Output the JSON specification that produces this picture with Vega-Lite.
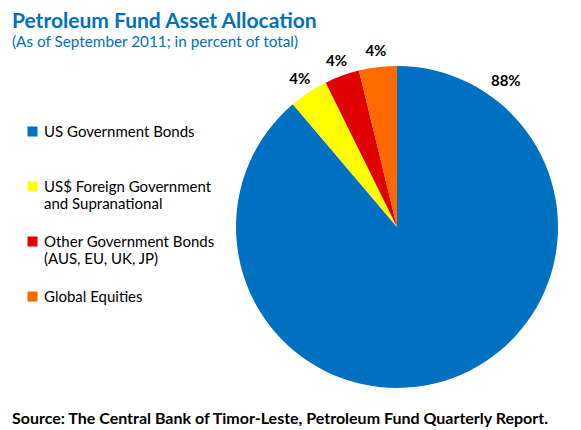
{
  "$schema": "https://vega.github.io/schema/vega-lite/v6.json",
  "background": "white",
  "autosize": {"type": "pad"},
  "padding": {"left": 12, "top": 10, "right": 5, "bottom": 5},
  "title": {
    "text": "Petroleum Fund Asset Allocation",
    "subtitle": "(As of September 2011; in percent of total)",
    "anchor": "start",
    "frame": "bounds",
    "dx": 0,
    "font": "Lato",
    "fontSize": 21,
    "fontWeight": "bold",
    "color": "#0070C0",
    "subtitleFont": "Lato",
    "subtitleFontSize": 15.3,
    "subtitleColor": "#0070C0",
    "subtitlePadding": 3,
    "offset": -6
  },
  "config": {"view": {"stroke": null}},
  "vconcat": [
    {
      "width": 320,
      "height": 320,
      "title": {
        "text": "Source: The Central Bank of Timor-Leste, Petroleum Fund Quarterly Report.",
        "orient": "bottom",
        "anchor": "start",
        "frame": "bounds",
        "dx": -224,
        "font": "Lato",
        "fontSize": 16,
        "fontWeight": "bold",
        "color": "#000000",
        "offset": 10
      },
      "data": {
        "values": [
          {"category": "US Government Bonds", "value": 88.8, "label": "88%", "idx": 1},
          {"category": "US$ Foreign Government|and Supranational", "value": 3.9, "label": "4%", "idx": 2},
          {"category": "Other Government Bonds|(AUS, EU, UK, JP)", "value": 3.5, "label": "4%", "idx": 3},
          {"category": "Global Equities", "value": 3.8, "label": "4%", "idx": 4}
        ]
      },
      "layer": [
        {
          "mark": {"type": "arc", "outerRadius": 161},
          "encoding": {
            "theta": {"field": "value", "type": "quantitative", "stack": true},
            "order": {"field": "idx", "type": "quantitative"},
            "color": {
              "field": "category",
              "type": "nominal",
              "scale": {
                "domain": ["US Government Bonds", "US$ Foreign Government|and Supranational", "Other Government Bonds|(AUS, EU, UK, JP)", "Global Equities"],
                "range": ["#0070C0", "#FFFF00", "#E00000", "#FF6A00"]
              },
              "legend": {
                "title": null,
                "orient": "none",
                "legendX": -212,
                "legendY": 57,
                "symbolType": "square",
                "symbolSize": 100,
                "symbolStrokeWidth": 0,
                "labelFont": "Lato",
                "labelFontSize": 15,
                "labelColor": "#000000",
                "labelExpr": "split(datum.label, '|')",
                "labelLimit": 300,
                "gridAlign": "all",
                "rowPadding": 22,
                "labelOffset": 4
              }
            }
          }
        },
        {
          "mark": {"type": "text", "radius": 177, "font": "Lato", "fontSize": 15, "fontWeight": "bold", "color": "#000000"},
          "encoding": {
            "theta": {"field": "value", "type": "quantitative", "stack": true},
            "order": {"field": "idx", "type": "quantitative"},
            "text": {"condition": {"test": "datum.idx == 1", "value": ""}, "field": "label"}
          }
        },
        {
          "transform": [{"filter": "datum.idx == 1"}],
          "mark": {"type": "text", "radius": 182, "font": "Lato", "fontSize": 15, "fontWeight": "bold", "color": "#000000"},
          "encoding": {
            "theta": {"datum": 10.2, "type": "quantitative"},
            "text": {"field": "label"}
          }
        }
      ]
    }
  ]
}
